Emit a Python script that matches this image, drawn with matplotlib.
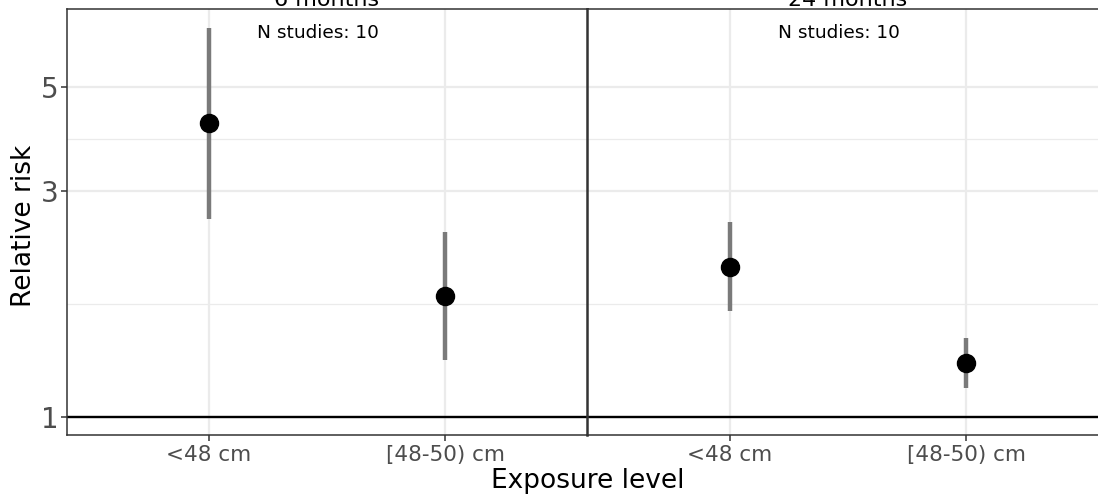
import matplotlib
matplotlib.use("Agg")
import matplotlib.pyplot as plt
import numpy as np

# data
panels = ["6 months", "24 months"]
levels = ["<48 cm", "[48-50) cm"]
rr = [[4.18, 1.80], [2.07, 1.30]]
lower = [[2.62, 1.32], [1.67, 1.15]]
upper = [[6.65, 2.46], [2.58, 1.47]]
n_studies = [10, 10]

W, H = 1098, 498
fig = plt.figure(figsize=(W / 100, H / 100), dpi=100)

left_px, panel_w = 66.5, 521
bottom = (H - 435) / H
height = (435 - 9.5) / H

axes = []
for i in range(2):
    ax = fig.add_axes([(left_px + i * panel_w) / W, bottom, panel_w / W, height])
    axes.append(ax)

    x = np.arange(1, len(levels) + 1)
    ax.set_yscale("log")
    ax.set_xlim(0.4, 2.6)
    ax.set_ylim(0.914, 7.29)

    ax.set_yticks([1, 3, 5])
    ax.set_yticks([np.sqrt(3), np.sqrt(15)], minor=True)
    ax.set_yticklabels(["1", "3", "5"])
    ax.yaxis.set_minor_formatter(matplotlib.ticker.NullFormatter())
    ax.set_xticks(x)
    ax.set_xticklabels(levels)

    ax.grid(True, which="major", color="#EBEBEB", linewidth=1.6, zorder=0)
    ax.grid(True, which="minor", axis="y", color="#EBEBEB", linewidth=0.9, zorder=0)
    ax.set_axisbelow(True)

    ax.axhline(1, color="black", linewidth=1.7, zorder=2)
    ax.vlines(x, lower[i], upper[i], color="#7A7A7A", linewidth=3.2, zorder=3)
    ax.plot(x, rr[i], "o", color="black", markersize=13, zorder=4)

    ax.text(1.462, 0.932, "N studies: %d" % n_studies[i], transform=ax.get_xaxis_transform(),
            ha="center", va="baseline", fontsize=13.3, color="black")
    ax.text(0.5, 1.0, panels[i], transform=ax.transAxes, ha="center", va="bottom",
            fontsize=16, color="black")

    for s in ax.spines.values():
        s.set_color("#333333")
        s.set_linewidth(1.1)
    if i == 1:
        ax.spines["left"].set_linewidth(1.8)

    ax.tick_params(axis="x", which="major", length=4, width=1.1, color="#333333",
                   labelsize=15.5, labelcolor="#4D4D4D", pad=3)
    ax.tick_params(axis="y", which="major", length=4, width=1.1, color="#333333",
                   labelsize=20, labelcolor="#4D4D4D", pad=2)
    ax.tick_params(axis="y", which="minor", length=0)
    if i == 1:
        ax.tick_params(axis="y", which="both", left=False, labelleft=False)

fig.text(587.5 / W, (H - 488) / H, "Exposure level", ha="center", va="baseline", fontsize=19)
fig.text(24 / W, 0.547, "Relative risk", ha="center", va="center", rotation=90, fontsize=19)

fig.savefig("out.png", dpi=100)
